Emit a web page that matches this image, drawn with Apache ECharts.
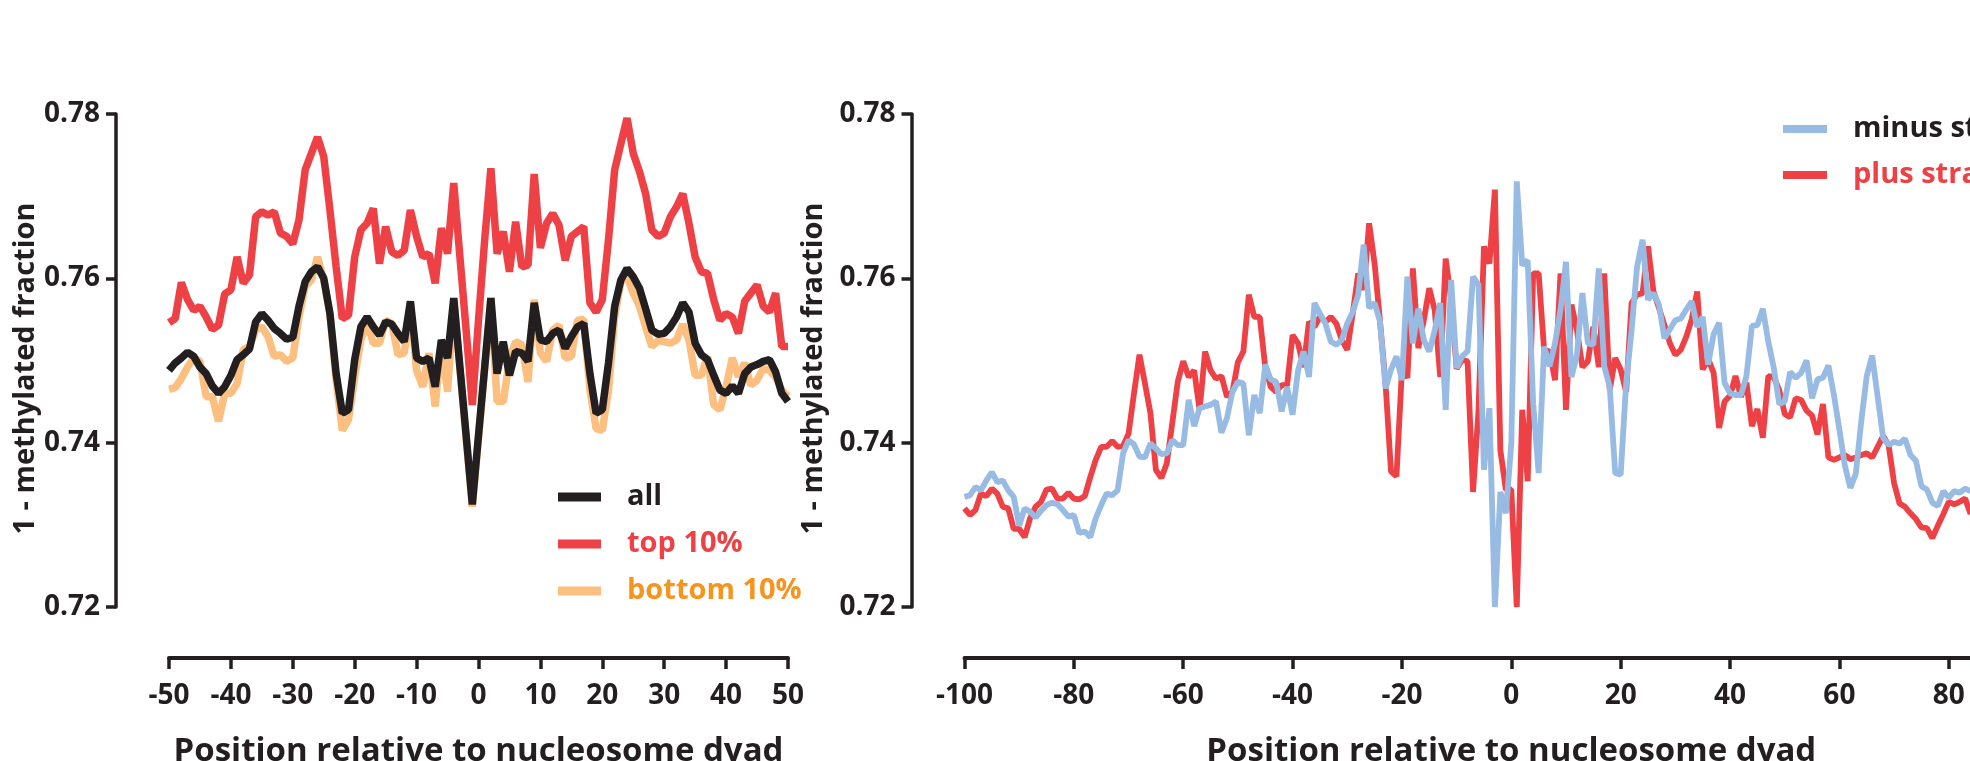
<!DOCTYPE html>
<html>
<head>
<meta charset="utf-8">
<script src="https://cdn.jsdelivr.net/npm/echarts@6/dist/echarts.min.js"></script>
<style>
  html, body { margin: 0; padding: 0; background: #ffffff; }
  #chart { width: 1970px; height: 761px; }
</style>
</head>
<body>
<div id="chart"></div>
<script>
// ---- Left panel: positions -50..50 around the dyad ----
const leftStart = -50, leftEnd = 50;
const leftPositions = [];
for (let p = leftStart; p <= leftEnd; p++) leftPositions.push(p);

const allValues = [
  0.7488,0.7497,0.7503,0.7510,0.7505,0.7492,0.7484,0.7469,0.7460,0.7468,
  0.7482,0.7501,0.7507,0.7514,0.7547,0.7557,0.7549,0.7539,0.7533,0.7526,
  0.7528,0.7566,0.7596,0.7608,0.7614,0.7600,0.7557,0.7484,0.7436,0.7440,
  0.7501,0.7541,0.7553,0.7541,0.7531,0.7547,0.7544,0.7533,0.7523,0.7572,
  0.7503,0.7499,0.7503,0.7468,0.7525,0.7503,0.7576,0.7492,0.7409,0.7325,
  0.7409,
  0.7492,0.7576,0.7484,0.7523,0.7482,0.7511,0.7509,0.7499,0.7570,0.7525,
  0.7523,0.7533,0.7537,0.7515,0.7529,0.7541,0.7545,0.7484,0.7436,0.7440,
  0.7497,0.7566,0.7598,0.7612,0.7602,0.7588,0.7563,0.7537,0.7532,0.7533,
  0.7541,0.7553,0.7570,0.7559,0.7521,0.7507,0.7501,0.7482,0.7464,0.7460,
  0.7469,0.7460,0.7484,0.7492,0.7495,0.7499,0.7501,0.7486,0.7460,0.7450
];

const top10Values = [
  0.7546,0.7551,0.7595,0.7574,0.7561,0.7566,0.7553,0.7538,0.7543,0.7581,
  0.7586,0.7626,0.7594,0.7604,0.7675,0.7681,0.7677,0.7681,0.7655,0.7651,
  0.7642,0.7671,0.7732,0.7752,0.7772,0.7748,0.7683,0.7614,0.7551,0.7555,
  0.7626,0.7659,0.7667,0.7685,0.7618,0.7663,0.7632,0.7628,0.7634,0.7683,
  0.7651,0.7626,0.7630,0.7594,0.7661,0.7630,0.7716,0.7626,0.7537,0.7446,
  0.7549,
  0.7647,0.7734,0.7630,0.7657,0.7608,0.7669,0.7614,0.7616,0.7727,0.7637,
  0.7667,0.7679,0.7665,0.7622,0.7651,0.7657,0.7663,0.7570,0.7559,0.7574,
  0.7647,0.7732,0.7764,0.7795,0.7752,0.7730,0.7703,0.7659,0.7651,0.7655,
  0.7675,0.7687,0.7703,0.7667,0.7626,0.7608,0.7606,0.7574,0.7549,0.7557,
  0.7553,0.7533,0.7572,0.7582,0.7592,0.7566,0.7559,0.7582,0.7517,0.7517
];

const bottom10Values = [
  0.7465,0.7467,0.7478,0.7492,0.7503,0.7499,0.7456,0.7456,0.7426,0.7460,
  0.7460,0.7472,0.7513,0.7517,0.7537,0.7541,0.7529,0.7505,0.7507,0.7499,
  0.7503,0.7553,0.7590,0.7598,0.7626,0.7598,0.7557,0.7476,0.7415,0.7428,
  0.7480,0.7525,0.7547,0.7521,0.7521,0.7549,0.7545,0.7507,0.7509,0.7566,
  0.7488,0.7468,0.7509,0.7444,0.7523,0.7462,0.7574,0.7490,0.7405,0.7322,
  0.7405,
  0.7490,0.7576,0.7450,0.7450,0.7501,0.7523,0.7519,0.7474,0.7574,0.7509,
  0.7499,0.7537,0.7543,0.7503,0.7505,0.7549,0.7550,0.7464,0.7417,0.7415,
  0.7464,0.7553,0.7596,0.7602,0.7582,0.7566,0.7541,0.7517,0.7524,0.7523,
  0.7521,0.7525,0.7544,0.7525,0.7482,0.7482,0.7505,0.7446,0.7440,0.7468,
  0.7503,0.7480,0.7497,0.7470,0.7476,0.7490,0.7488,0.7480,0.7464,0.7456
];

// ---- Right panel: positions -100..84 (strand-specific profiles) ----
const rightStart = -100, rightEnd = 84;
const rightPositions = [];
for (let p = rightStart; p <= rightEnd; p++) rightPositions.push(p);

const plusValues = [
  0.7320,0.7312,0.7318,0.7338,0.7335,0.7344,0.7338,0.7322,0.7320,0.7295,
  0.7295,0.7285,0.7308,0.7322,0.7328,0.7343,0.7344,0.7332,0.7332,0.7339,
  0.7332,0.7331,0.7335,0.7358,0.7379,0.7395,0.7395,0.7402,0.7395,0.7396,
  0.7411,0.7460,0.7507,0.7472,0.7436,0.7367,0.7357,0.7375,0.7424,0.7474,
  0.7499,0.7480,0.7488,0.7440,0.7511,0.7488,0.7478,0.7481,0.7456,0.7462,
  0.7498,0.7511,0.7580,0.7553,0.7553,0.7492,0.7468,0.7462,0.7470,0.7470,
  0.7531,0.7521,0.7492,0.7547,0.7541,0.7553,0.7547,0.7553,0.7545,0.7525,
  0.7513,0.7557,0.7606,0.7586,0.7667,0.7618,0.7547,0.7472,0.7365,0.7359,
  0.7489,0.7479,0.7612,0.7515,0.7549,0.7588,0.7561,0.7480,0.7624,0.7574,
  0.7490,0.7501,0.7499,0.7340,0.7439,0.7639,0.7618,0.7708,0.7391,0.7343,
  0.7343,0.7200,0.7440,0.7353,0.7606,0.7606,0.7513,0.7511,0.7476,0.7606,
  0.7440,0.7568,0.7537,0.7492,0.7499,0.7541,0.7492,0.7606,0.7464,0.7503,
  0.7489,0.7462,0.7570,0.7580,0.7582,0.7639,0.7584,0.7564,0.7543,0.7521,
  0.7507,0.7513,0.7529,0.7550,0.7584,0.7489,0.7502,0.7485,0.7418,0.7450,
  0.7457,0.7481,0.7456,0.7473,0.7420,0.7441,0.7406,0.7481,0.7480,0.7464,
  0.7435,0.7431,0.7454,0.7452,0.7439,0.7433,0.7410,0.7447,0.7382,0.7379,
  0.7382,0.7385,0.7380,0.7382,0.7385,0.7387,0.7382,0.7395,0.7408,0.7397,
  0.7351,0.7326,0.7322,0.7314,0.7307,0.7297,0.7296,0.7284,0.7299,0.7313,
  0.7328,0.7325,0.7328,0.7332,0.7313
];

const minusValues = [
  0.7334,0.7336,0.7346,0.7342,0.7354,0.7364,0.7352,0.7354,0.7342,0.7334,
  0.7299,0.7320,0.7316,0.7309,0.7317,0.7324,0.7327,0.7325,0.7318,0.7310,
  0.7312,0.7290,0.7292,0.7285,0.7308,0.7324,0.7338,0.7336,0.7342,0.7387,
  0.7403,0.7398,0.7383,0.7382,0.7399,0.7393,0.7386,0.7387,0.7403,0.7397,
  0.7397,0.7452,0.7420,0.7442,0.7444,0.7446,0.7450,0.7412,0.7430,0.7462,
  0.7474,0.7472,0.7409,0.7458,0.7436,0.7495,0.7477,0.7474,0.7438,0.7468,
  0.7434,0.7488,0.7511,0.7480,0.7570,0.7557,0.7545,0.7523,0.7519,0.7525,
  0.7545,0.7559,0.7580,0.7641,0.7564,0.7570,0.7547,0.7466,0.7489,0.7505,
  0.7476,0.7602,0.7521,0.7563,0.7525,0.7511,0.7537,0.7570,0.7440,0.7598,
  0.7491,0.7505,0.7511,0.7602,0.7592,0.7367,0.7442,0.7200,0.7340,0.7314,
  0.7399,0.7718,0.7616,0.7622,0.7448,0.7363,0.7517,0.7493,0.7521,0.7562,
  0.7620,0.7480,0.7507,0.7582,0.7521,0.7519,0.7612,0.7493,0.7468,0.7363,
  0.7361,0.7472,0.7537,0.7614,0.7647,0.7574,0.7582,0.7568,0.7527,0.7538,
  0.7549,0.7551,0.7562,0.7572,0.7541,0.7553,0.7495,0.7532,0.7546,0.7473,
  0.7460,0.7458,0.7458,0.7481,0.7542,0.7543,0.7563,0.7523,0.7491,0.7447,
  0.7450,0.7486,0.7479,0.7485,0.7500,0.7454,0.7477,0.7479,0.7494,0.7458,
  0.7416,0.7372,0.7345,0.7362,0.7426,0.7481,0.7506,0.7456,0.7406,0.7397,
  0.7401,0.7399,0.7405,0.7385,0.7378,0.7347,0.7343,0.7327,0.7323,0.7341,
  0.7333,0.7341,0.7339,0.7344,0.7341
];

// ---- Axis settings shared by both panels ----
const yMin = 0.72, yMax = 0.78, yStep = 0.02;
const leftXStep = 10, rightXMin = -100, rightXMax = 100, rightXStep = 20;
const xTitle = 'Position relative to nucleosome dyad';
const yTitle = '1 - methylated fraction';

const INK = '#231F20';
const RED = '#EE4146';
const ORANGE_LINE = '#FDBF80';
const ORANGE_TEXT = '#F7941D';
const BLUE = '#97BBE3';
const FONT = '"Open Sans", "DejaVu Sans", sans-serif';

const pairs = (xs, ys) => xs.map((x, i) => [x, ys[i]]);

function xAxisCfg(gridIndex, min, max, interval) {
  return {
    gridIndex, type: 'value', min, max, interval,
    position: 'bottom', offset: 51,
    axisLine: { show: true, onZero: false, lineStyle: { color: INK, width: 4 } },
    axisTick: { show: true, length: 11, lineStyle: { color: INK, width: 3.5 } },
    axisLabel: { color: INK, fontFamily: FONT, fontWeight: 'bold', fontSize: 28, margin: 24 },
    splitLine: { show: false },
    name: xTitle, nameLocation: 'middle', nameGap: 77,
    nameTextStyle: { color: INK, fontFamily: FONT, fontWeight: 'bold', fontSize: 33 }
  };
}

function yAxisCfg(gridIndex) {
  return {
    gridIndex, type: 'value', min: yMin, max: yMax, interval: yStep,
    position: 'left', offset: 53,
    axisLine: { show: true, onZero: false, lineStyle: { color: INK, width: 3.5 } },
    axisTick: { show: true, length: 10, lineStyle: { color: INK, width: 3.5 } },
    axisLabel: {
      color: INK, fontFamily: FONT, fontWeight: 'bold', fontSize: 28, margin: 16,
      formatter: v => v.toFixed(2)
    },
    splitLine: { show: false },
    name: yTitle, nameLocation: 'middle', nameGap: 76, nameRotate: 90,
    nameTextStyle: {
      color: INK, fontFamily: FONT, fontWeight: 'bold', fontSize: 29,
      padding: [0, 16, 0, 0]
    }
  };
}

function lineSeries(name, xIdx, xs, ys, color, width) {
  return {
    name, type: 'line', xAxisIndex: xIdx, yAxisIndex: xIdx,
    data: pairs(xs, ys),
    symbol: 'none', showSymbol: false,
    lineStyle: { color, width, join: 'bevel' },
    itemStyle: { color },
    emphasis: { disabled: true },
    animation: false
  };
}

const legendText = { fontFamily: FONT, fontWeight: 'bold', fontSize: 29, lineHeight: 36, padding: [0, 0, 0, 21] };

const option = {
  backgroundColor: '#ffffff',
  animation: false,
  grid: [
    { left: 169, top: 114, width: 619, height: 493, outerBoundsMode: 'none' },
    { left: 964.5, top: 114, width: 1093.6, height: 493, outerBoundsMode: 'none' }
  ],
  xAxis: [
    xAxisCfg(0, leftStart, leftEnd, leftXStep),
    xAxisCfg(1, rightXMin, rightXMax, rightXStep)
  ],
  yAxis: [yAxisCfg(0), yAxisCfg(1)],
  legend: [
    {
      orient: 'vertical', left: 553, top: 474,
      icon: 'rect', itemWidth: 43, itemHeight: 9, itemGap: 11,
      selectedMode: false,
      textStyle: legendText,
      data: [
        { name: 'all', textStyle: { color: INK } },
        { name: 'top 10%', textStyle: { color: RED } },
        { name: 'bottom 10%', textStyle: { color: ORANGE_TEXT } }
      ]
    },
    {
      orient: 'vertical', left: 1778, top: 106,
      icon: 'rect', itemWidth: 44, itemHeight: 8, itemGap: 10,
      selectedMode: false,
      textStyle: legendText,
      data: [
        { name: 'minus strand', textStyle: { color: INK } },
        { name: 'plus strand', textStyle: { color: RED } }
      ]
    }
  ],
  series: [
    lineSeries('bottom 10%', 0, leftPositions, bottom10Values, ORANGE_LINE, 7.5),
    lineSeries('top 10%', 0, leftPositions, top10Values, RED, 7.5),
    lineSeries('all', 0, leftPositions, allValues, INK, 7.5),
    lineSeries('plus strand', 1, rightPositions, plusValues, RED, 5.8),
    lineSeries('minus strand', 1, rightPositions, minusValues, BLUE, 5.8)
  ]
};

const chart = echarts.init(document.getElementById('chart'), null, { renderer: 'canvas' });
chart.setOption(option);
</script>
</body>
</html>
